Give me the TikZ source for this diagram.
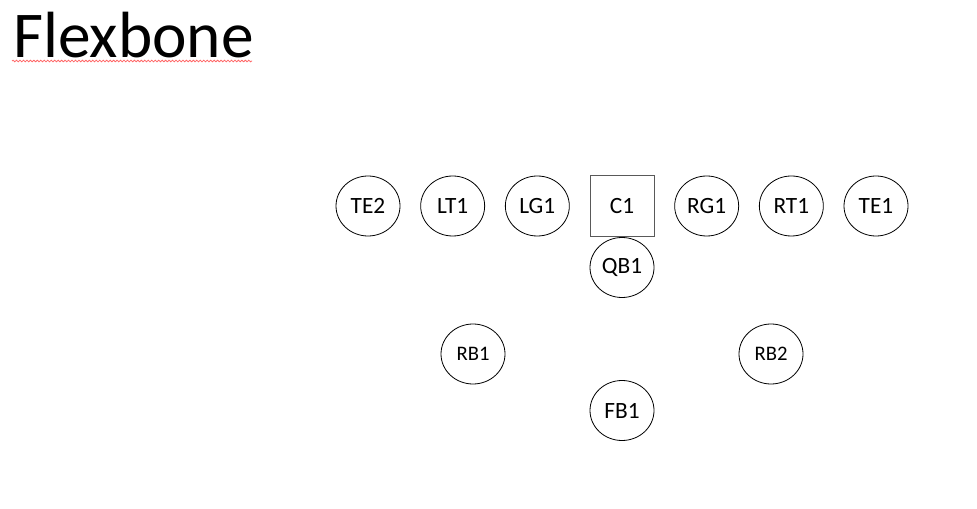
\documentclass[tikz,border=0pt]{standalone}
\usepackage{fontspec}
\setmainfont{Carlito}
\usetikzlibrary{positioning,shapes.geometric,decorations.pathmorphing}

\begin{document}
\begin{tikzpicture}[x=0.75pt,y=-0.75pt,
        player/.style={draw,ellipse,line width=0.6pt,inner sep=0pt,outer sep=0pt,
            minimum width=48pt,minimum height=45pt,font=\fontsize{17.5}{19}\selectfont},
        back/.style={player,font=\fontsize{15.5}{17}\selectfont},
        center/.style={draw=black!65,rectangle,line width=0.75pt,inner sep=0pt,outer sep=0pt,
            minimum width=48pt,minimum height=45.75pt,font=\fontsize{17.5}{19}\selectfont},
        node distance=15.5pt]
    \useasboundingbox (0,0) rectangle (977,509);
    % title
    \node[anchor=base west,inner sep=0pt,font=\fontsize{49}{56}\selectfont] (title) at (13,58) {Flexbone};
    \draw[red!60,line width=0.6pt,decorate,decoration={snake,amplitude=0.6pt,segment length=2.6pt}]
        (12,61) -- (252,61);
    % line
    \node[player] (TE2) at (368,206) {TE2};
    \node[player,right=of TE2] (LT1) {LT1};
    \node[player,right=of LT1] (LG1) {LG1};
    \node[center,right=of LG1] (C1) {C1};
    \node[player,right=of C1] (RG1) {RG1};
    \node[player,right=of RG1] (RT1) {RT1};
    \node[player,right=of RT1] (TE1) {TE1};
    % backfield
    \node[player,below=0.75pt of C1] (QB1) {QB1};
    \node[player,below=62.25pt of QB1] (FB1) {FB1};
    \node[back] (RB1) at (473,354) {RB1};
    \node[back] (RB2) at (771,354) {RB2};
\end{tikzpicture}
\end{document}
